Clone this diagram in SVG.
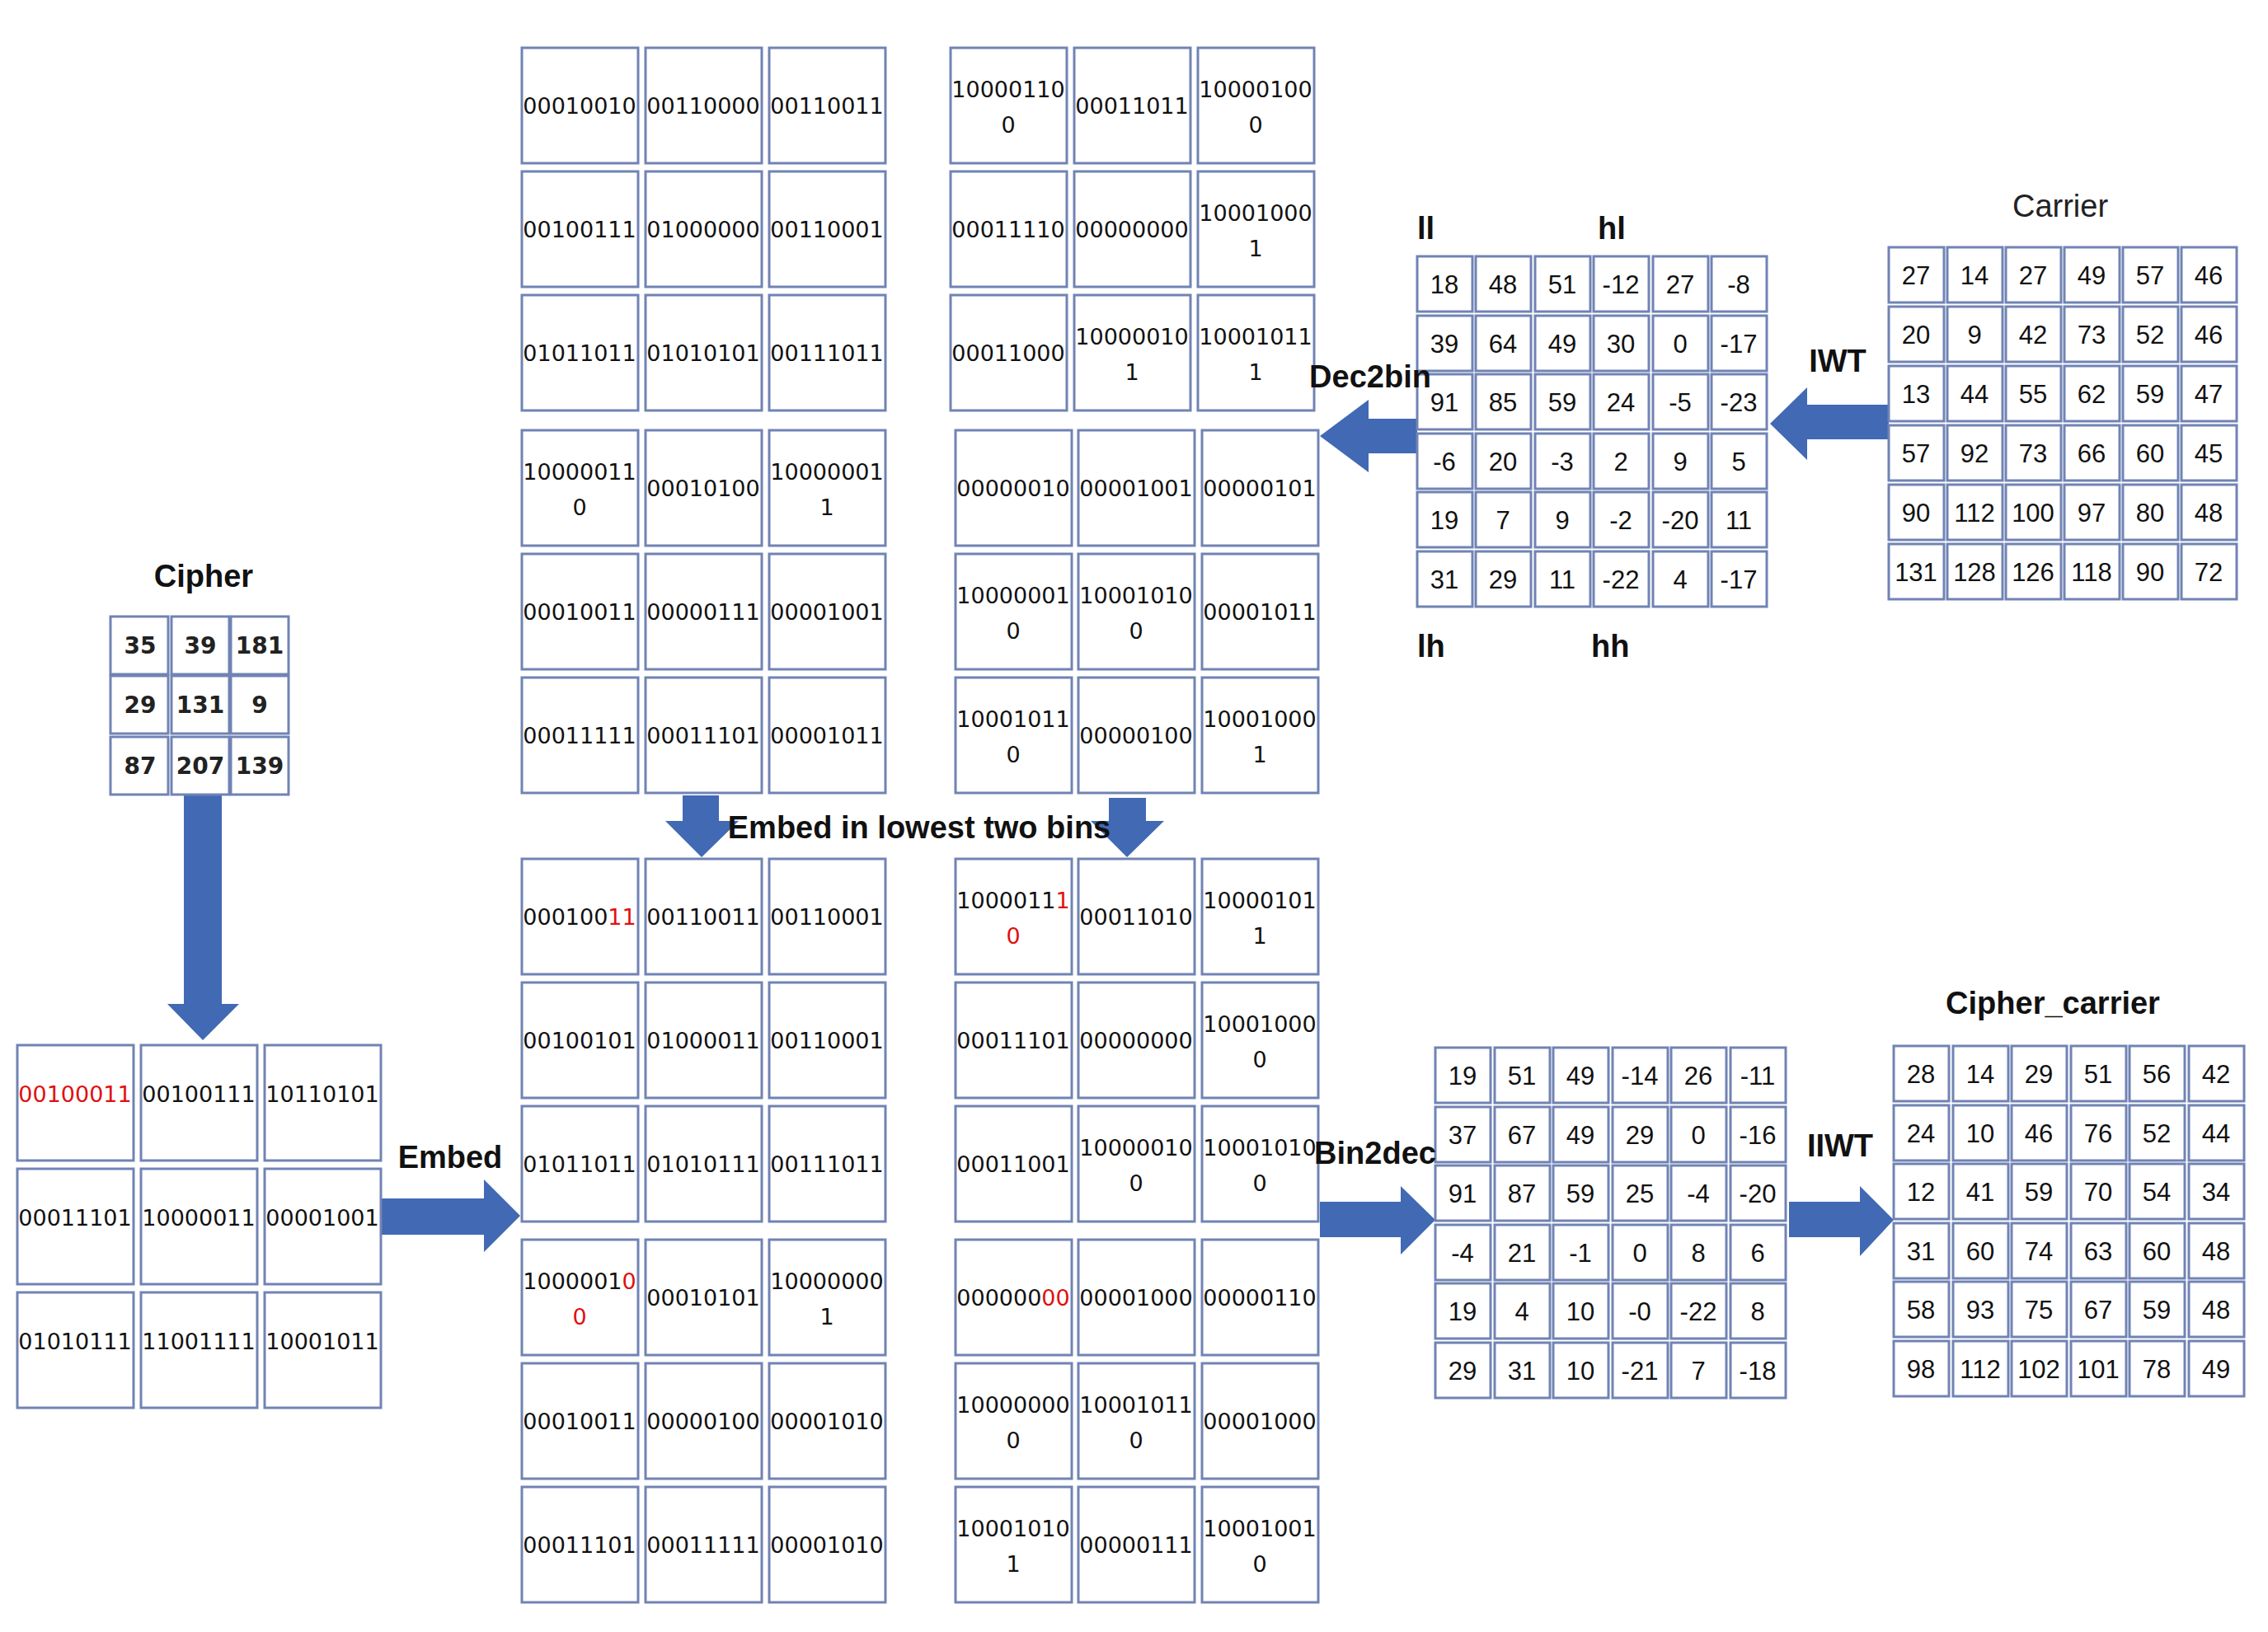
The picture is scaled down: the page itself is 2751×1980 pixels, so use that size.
<svg xmlns="http://www.w3.org/2000/svg" width="2751" height="1980" viewBox="0 0 2751 1980">
<style>
.b{fill:#fff;stroke:#7183b4;stroke-width:3}
.s{fill:#fff;stroke:#7183b4;stroke-width:3}
.bt{font-family:"DejaVu Sans",sans-serif;font-size:27px;fill:#111;text-anchor:middle}
.nt{font-family:"Liberation Sans",sans-serif;font-size:31px;fill:#111;text-anchor:middle}
.ct{font-family:"DejaVu Sans",sans-serif;font-size:28px;font-weight:bold;fill:#222;text-anchor:middle}
.lb{font-family:"Liberation Sans",sans-serif;font-size:38px;font-weight:bold;fill:#111}
.r{fill:#e01010}
.ar{fill:#4169b4}
</style>
<defs>
<rect id="B" class="b" width="141" height="140"/>
<rect id="S" class="s" width="67" height="67"/>
<rect id="C" class="s" width="70" height="70"/>
</defs>

<g id="connectors">
<polygon class="ar" points="223,963 269,963 269,1218 290,1218 246,1262 203,1218 223,1218"/>
<polygon class="ar" points="461,1454 587,1454 587,1431 631,1475 587,1519 587,1498 461,1498"/>
<polygon class="ar" points="828,965 872,965 872,996 896,996 851,1040 807,996 828,996"/>
<polygon class="ar" points="1345,968 1390,968 1390,996 1412,996 1367,1040 1323,996 1345,996"/>
<polygon class="ar" points="2291,491 2192,491 2192,470 2147,514 2192,558 2192,533 2291,533"/>
<polygon class="ar" points="1719,508 1660,508 1660,485 1601,529 1660,573 1660,550 1719,550"/>
<polygon class="ar" points="1601,1458 1699,1458 1699,1439 1741,1480 1699,1522 1699,1501 1601,1501"/>
<polygon class="ar" points="2170,1458 2256,1458 2256,1439 2297,1480 2256,1524 2256,1501 2170,1501"/>
</g>

<g id="cipher">
<use href="#C" x="134" y="748"/><use href="#C" x="208" y="748"/><use href="#C" x="280" y="748"/>
<use href="#C" x="134" y="820"/><use href="#C" x="208" y="820"/><use href="#C" x="280" y="820"/>
<use href="#C" x="134" y="894"/><use href="#C" x="208" y="894"/><use href="#C" x="280" y="894"/>
<text class="ct" x="170" y="793">35</text><text class="ct" x="243" y="793">39</text><text class="ct" x="315" y="793">181</text>
<text class="ct" x="170" y="865">29</text><text class="ct" x="243" y="865">131</text><text class="ct" x="315" y="865">9</text>
<text class="ct" x="170" y="939">87</text><text class="ct" x="243" y="939">207</text><text class="ct" x="315" y="939">139</text>
</g>

<g id="cipher_bin">
<use href="#B" x="21" y="1268"/><use href="#B" x="171" y="1268"/><use href="#B" x="321" y="1268"/>
<use href="#B" x="21" y="1418"/><use href="#B" x="171" y="1418"/><use href="#B" x="321" y="1418"/>
<use href="#B" x="21" y="1568"/><use href="#B" x="171" y="1568"/><use href="#B" x="321" y="1568"/>
<text class="bt r" x="91" y="1337">00100011</text><text class="bt" x="241" y="1337">00100111</text><text class="bt" x="391" y="1337">10110101</text>
<text class="bt" x="91" y="1487">00011101</text><text class="bt" x="241" y="1487">10000011</text><text class="bt" x="391" y="1487">00001001</text>
<text class="bt" x="91" y="1637">01010111</text><text class="bt" x="241" y="1637">11001111</text><text class="bt" x="391" y="1637">10001011</text>
</g>

<g id="ll_bin">
<use href="#B" x="633" y="58"/><use href="#B" x="783" y="58"/><use href="#B" x="933" y="58"/>
<use href="#B" x="633" y="208"/><use href="#B" x="783" y="208"/><use href="#B" x="933" y="208"/>
<use href="#B" x="633" y="358"/><use href="#B" x="783" y="358"/><use href="#B" x="933" y="358"/>
<use href="#B" x="633" y="522"/><use href="#B" x="783" y="522"/><use href="#B" x="933" y="522"/>
<use href="#B" x="633" y="672"/><use href="#B" x="783" y="672"/><use href="#B" x="933" y="672"/>
<use href="#B" x="633" y="822"/><use href="#B" x="783" y="822"/><use href="#B" x="933" y="822"/>
<text class="bt" x="703" y="138">00010010</text><text class="bt" x="853" y="138">00110000</text><text class="bt" x="1003" y="138">00110011</text>
<text class="bt" x="703" y="288">00100111</text><text class="bt" x="853" y="288">01000000</text><text class="bt" x="1003" y="288">00110001</text>
<text class="bt" x="703" y="438">01011011</text><text class="bt" x="853" y="438">01010101</text><text class="bt" x="1003" y="438">00111011</text>
<text class="bt" x="703" y="582">10000011</text><text class="bt" x="703" y="625">0</text><text class="bt" x="853" y="602">00010100</text><text class="bt" x="1003" y="582">10000001</text><text class="bt" x="1003" y="625">1</text>
<text class="bt" x="703" y="752">00010011</text><text class="bt" x="853" y="752">00000111</text><text class="bt" x="1003" y="752">00001001</text>
<text class="bt" x="703" y="902">00011111</text><text class="bt" x="853" y="902">00011101</text><text class="bt" x="1003" y="902">00001011</text>
</g>

<g id="hl_bin">
<use href="#B" x="1153" y="58"/><use href="#B" x="1303" y="58"/><use href="#B" x="1453" y="58"/>
<use href="#B" x="1153" y="208"/><use href="#B" x="1303" y="208"/><use href="#B" x="1453" y="208"/>
<use href="#B" x="1153" y="358"/><use href="#B" x="1303" y="358"/><use href="#B" x="1453" y="358"/>
<use href="#B" x="1159" y="522"/><use href="#B" x="1308" y="522"/><use href="#B" x="1458" y="522"/>
<use href="#B" x="1159" y="672"/><use href="#B" x="1308" y="672"/><use href="#B" x="1458" y="672"/>
<use href="#B" x="1159" y="822"/><use href="#B" x="1308" y="822"/><use href="#B" x="1458" y="822"/>
<text class="bt" x="1223" y="118">10000110</text><text class="bt" x="1223" y="161">0</text><text class="bt" x="1373" y="138">00011011</text><text class="bt" x="1523" y="118">10000100</text><text class="bt" x="1523" y="161">0</text>
<text class="bt" x="1223" y="288">00011110</text><text class="bt" x="1373" y="288">00000000</text><text class="bt" x="1523" y="268">10001000</text><text class="bt" x="1523" y="311">1</text>
<text class="bt" x="1223" y="438">00011000</text><text class="bt" x="1373" y="418">10000010</text><text class="bt" x="1373" y="461">1</text><text class="bt" x="1523" y="418">10001011</text><text class="bt" x="1523" y="461">1</text>
<text class="bt" x="1229" y="602">00000010</text><text class="bt" x="1378" y="602">00001001</text><text class="bt" x="1528" y="602">00000101</text>
<text class="bt" x="1229" y="732">10000001</text><text class="bt" x="1229" y="775">0</text><text class="bt" x="1378" y="732">10001010</text><text class="bt" x="1378" y="775">0</text><text class="bt" x="1528" y="752">00001011</text>
<text class="bt" x="1229" y="882">10001011</text><text class="bt" x="1229" y="925">0</text><text class="bt" x="1378" y="902">00000100</text><text class="bt" x="1528" y="882">10001000</text><text class="bt" x="1528" y="925">1</text>
</g>

<g id="ll_embedded">
<use href="#B" x="633" y="1042"/><use href="#B" x="783" y="1042"/><use href="#B" x="933" y="1042"/>
<use href="#B" x="633" y="1192"/><use href="#B" x="783" y="1192"/><use href="#B" x="933" y="1192"/>
<use href="#B" x="633" y="1342"/><use href="#B" x="783" y="1342"/><use href="#B" x="933" y="1342"/>
<use href="#B" x="633" y="1504"/><use href="#B" x="783" y="1504"/><use href="#B" x="933" y="1504"/>
<use href="#B" x="633" y="1654"/><use href="#B" x="783" y="1654"/><use href="#B" x="933" y="1654"/>
<use href="#B" x="633" y="1804"/><use href="#B" x="783" y="1804"/><use href="#B" x="933" y="1804"/>
<text class="bt" x="703" y="1122">000100<tspan class="r">11</tspan></text><text class="bt" x="853" y="1122">00110011</text><text class="bt" x="1003" y="1122">00110001</text>
<text class="bt" x="703" y="1272">00100101</text><text class="bt" x="853" y="1272">01000011</text><text class="bt" x="1003" y="1272">00110001</text>
<text class="bt" x="703" y="1422">01011011</text><text class="bt" x="853" y="1422">01010111</text><text class="bt" x="1003" y="1422">00111011</text>
<text class="bt" x="703" y="1564">1000001<tspan class="r">0</tspan></text><text class="bt r" x="703" y="1607">0</text><text class="bt" x="853" y="1584">00010101</text><text class="bt" x="1003" y="1564">10000000</text><text class="bt" x="1003" y="1607">1</text>
<text class="bt" x="703" y="1734">00010011</text><text class="bt" x="853" y="1734">00000100</text><text class="bt" x="1003" y="1734">00001010</text>
<text class="bt" x="703" y="1884">00011101</text><text class="bt" x="853" y="1884">00011111</text><text class="bt" x="1003" y="1884">00001010</text>
</g>

<g id="hl_embedded">
<use href="#B" x="1159" y="1042"/><use href="#B" x="1308" y="1042"/><use href="#B" x="1458" y="1042"/>
<use href="#B" x="1159" y="1192"/><use href="#B" x="1308" y="1192"/><use href="#B" x="1458" y="1192"/>
<use href="#B" x="1159" y="1342"/><use href="#B" x="1308" y="1342"/><use href="#B" x="1458" y="1342"/>
<use href="#B" x="1159" y="1504"/><use href="#B" x="1308" y="1504"/><use href="#B" x="1458" y="1504"/>
<use href="#B" x="1159" y="1654"/><use href="#B" x="1308" y="1654"/><use href="#B" x="1458" y="1654"/>
<use href="#B" x="1159" y="1804"/><use href="#B" x="1308" y="1804"/><use href="#B" x="1458" y="1804"/>
<text class="bt" x="1229" y="1102">1000011<tspan class="r">1</tspan></text><text class="bt r" x="1229" y="1145">0</text><text class="bt" x="1378" y="1122">00011010</text><text class="bt" x="1528" y="1102">10000101</text><text class="bt" x="1528" y="1145">1</text>
<text class="bt" x="1229" y="1272">00011101</text><text class="bt" x="1378" y="1272">00000000</text><text class="bt" x="1528" y="1252">10001000</text><text class="bt" x="1528" y="1295">0</text>
<text class="bt" x="1229" y="1422">00011001</text><text class="bt" x="1378" y="1402">10000010</text><text class="bt" x="1378" y="1445">0</text><text class="bt" x="1528" y="1402">10001010</text><text class="bt" x="1528" y="1445">0</text>
<text class="bt" x="1229" y="1584">000000<tspan class="r">00</tspan></text><text class="bt" x="1378" y="1584">00001000</text><text class="bt" x="1528" y="1584">00000110</text>
<text class="bt" x="1229" y="1714">10000000</text><text class="bt" x="1229" y="1757">0</text><text class="bt" x="1378" y="1714">10001011</text><text class="bt" x="1378" y="1757">0</text><text class="bt" x="1528" y="1734">00001000</text>
<text class="bt" x="1229" y="1864">10001010</text><text class="bt" x="1229" y="1907">1</text><text class="bt" x="1378" y="1884">00000111</text><text class="bt" x="1528" y="1864">10001001</text><text class="bt" x="1528" y="1907">0</text>
</g>

<g id="iwt_coeffs">
<use href="#S" x="1719" y="311"/><use href="#S" x="1790" y="311"/><use href="#S" x="1862" y="311"/><use href="#S" x="1933" y="311"/><use href="#S" x="2005" y="311"/><use href="#S" x="2076" y="311"/>
<use href="#S" x="1719" y="383"/><use href="#S" x="1790" y="383"/><use href="#S" x="1862" y="383"/><use href="#S" x="1933" y="383"/><use href="#S" x="2005" y="383"/><use href="#S" x="2076" y="383"/>
<use href="#S" x="1719" y="454"/><use href="#S" x="1790" y="454"/><use href="#S" x="1862" y="454"/><use href="#S" x="1933" y="454"/><use href="#S" x="2005" y="454"/><use href="#S" x="2076" y="454"/>
<use href="#S" x="1719" y="526"/><use href="#S" x="1790" y="526"/><use href="#S" x="1862" y="526"/><use href="#S" x="1933" y="526"/><use href="#S" x="2005" y="526"/><use href="#S" x="2076" y="526"/>
<use href="#S" x="1719" y="597"/><use href="#S" x="1790" y="597"/><use href="#S" x="1862" y="597"/><use href="#S" x="1933" y="597"/><use href="#S" x="2005" y="597"/><use href="#S" x="2076" y="597"/>
<use href="#S" x="1719" y="669"/><use href="#S" x="1790" y="669"/><use href="#S" x="1862" y="669"/><use href="#S" x="1933" y="669"/><use href="#S" x="2005" y="669"/><use href="#S" x="2076" y="669"/>
<text class="nt" y="356"><tspan x="1752">18</tspan><tspan x="1823">48</tspan><tspan x="1895">51</tspan><tspan x="1966">-12</tspan><tspan x="2038">27</tspan><tspan x="2109">-8</tspan></text>
<text class="nt" y="428"><tspan x="1752">39</tspan><tspan x="1823">64</tspan><tspan x="1895">49</tspan><tspan x="1966">30</tspan><tspan x="2038">0</tspan><tspan x="2109">-17</tspan></text>
<text class="nt" y="499"><tspan x="1752">91</tspan><tspan x="1823">85</tspan><tspan x="1895">59</tspan><tspan x="1966">24</tspan><tspan x="2038">-5</tspan><tspan x="2109">-23</tspan></text>
<text class="nt" y="571"><tspan x="1752">-6</tspan><tspan x="1823">20</tspan><tspan x="1895">-3</tspan><tspan x="1966">2</tspan><tspan x="2038">9</tspan><tspan x="2109">5</tspan></text>
<text class="nt" y="642"><tspan x="1752">19</tspan><tspan x="1823">7</tspan><tspan x="1895">9</tspan><tspan x="1966">-2</tspan><tspan x="2038">-20</tspan><tspan x="2109">11</tspan></text>
<text class="nt" y="714"><tspan x="1752">31</tspan><tspan x="1823">29</tspan><tspan x="1895">11</tspan><tspan x="1966">-22</tspan><tspan x="2038">4</tspan><tspan x="2109">-17</tspan></text>
</g>

<g id="carrier">
<use href="#S" x="2291" y="300"/><use href="#S" x="2362" y="300"/><use href="#S" x="2433" y="300"/><use href="#S" x="2504" y="300"/><use href="#S" x="2575" y="300"/><use href="#S" x="2646" y="300"/>
<use href="#S" x="2291" y="372"/><use href="#S" x="2362" y="372"/><use href="#S" x="2433" y="372"/><use href="#S" x="2504" y="372"/><use href="#S" x="2575" y="372"/><use href="#S" x="2646" y="372"/>
<use href="#S" x="2291" y="444"/><use href="#S" x="2362" y="444"/><use href="#S" x="2433" y="444"/><use href="#S" x="2504" y="444"/><use href="#S" x="2575" y="444"/><use href="#S" x="2646" y="444"/>
<use href="#S" x="2291" y="516"/><use href="#S" x="2362" y="516"/><use href="#S" x="2433" y="516"/><use href="#S" x="2504" y="516"/><use href="#S" x="2575" y="516"/><use href="#S" x="2646" y="516"/>
<use href="#S" x="2291" y="588"/><use href="#S" x="2362" y="588"/><use href="#S" x="2433" y="588"/><use href="#S" x="2504" y="588"/><use href="#S" x="2575" y="588"/><use href="#S" x="2646" y="588"/>
<use href="#S" x="2291" y="660"/><use href="#S" x="2362" y="660"/><use href="#S" x="2433" y="660"/><use href="#S" x="2504" y="660"/><use href="#S" x="2575" y="660"/><use href="#S" x="2646" y="660"/>
<text class="nt" y="345"><tspan x="2324">27</tspan><tspan x="2395">14</tspan><tspan x="2466">27</tspan><tspan x="2537">49</tspan><tspan x="2608">57</tspan><tspan x="2679">46</tspan></text>
<text class="nt" y="417"><tspan x="2324">20</tspan><tspan x="2395">9</tspan><tspan x="2466">42</tspan><tspan x="2537">73</tspan><tspan x="2608">52</tspan><tspan x="2679">46</tspan></text>
<text class="nt" y="489"><tspan x="2324">13</tspan><tspan x="2395">44</tspan><tspan x="2466">55</tspan><tspan x="2537">62</tspan><tspan x="2608">59</tspan><tspan x="2679">47</tspan></text>
<text class="nt" y="561"><tspan x="2324">57</tspan><tspan x="2395">92</tspan><tspan x="2466">73</tspan><tspan x="2537">66</tspan><tspan x="2608">60</tspan><tspan x="2679">45</tspan></text>
<text class="nt" y="633"><tspan x="2324">90</tspan><tspan x="2395">112</tspan><tspan x="2466">100</tspan><tspan x="2537">97</tspan><tspan x="2608">80</tspan><tspan x="2679">48</tspan></text>
<text class="nt" y="705"><tspan x="2324">131</tspan><tspan x="2395">128</tspan><tspan x="2466">126</tspan><tspan x="2537">118</tspan><tspan x="2608">90</tspan><tspan x="2679">72</tspan></text>
</g>

<g id="embedded_coeffs">
<use href="#S" x="1741" y="1271"/><use href="#S" x="1813" y="1271"/><use href="#S" x="1884" y="1271"/><use href="#S" x="1956" y="1271"/><use href="#S" x="2027" y="1271"/><use href="#S" x="2099" y="1271"/>
<use href="#S" x="1741" y="1343"/><use href="#S" x="1813" y="1343"/><use href="#S" x="1884" y="1343"/><use href="#S" x="1956" y="1343"/><use href="#S" x="2027" y="1343"/><use href="#S" x="2099" y="1343"/>
<use href="#S" x="1741" y="1414"/><use href="#S" x="1813" y="1414"/><use href="#S" x="1884" y="1414"/><use href="#S" x="1956" y="1414"/><use href="#S" x="2027" y="1414"/><use href="#S" x="2099" y="1414"/>
<use href="#S" x="1741" y="1486"/><use href="#S" x="1813" y="1486"/><use href="#S" x="1884" y="1486"/><use href="#S" x="1956" y="1486"/><use href="#S" x="2027" y="1486"/><use href="#S" x="2099" y="1486"/>
<use href="#S" x="1741" y="1557"/><use href="#S" x="1813" y="1557"/><use href="#S" x="1884" y="1557"/><use href="#S" x="1956" y="1557"/><use href="#S" x="2027" y="1557"/><use href="#S" x="2099" y="1557"/>
<use href="#S" x="1741" y="1629"/><use href="#S" x="1813" y="1629"/><use href="#S" x="1884" y="1629"/><use href="#S" x="1956" y="1629"/><use href="#S" x="2027" y="1629"/><use href="#S" x="2099" y="1629"/>
<text class="nt" y="1316"><tspan x="1774">19</tspan><tspan x="1846">51</tspan><tspan x="1917">49</tspan><tspan x="1989">-14</tspan><tspan x="2060">26</tspan><tspan x="2132">-11</tspan></text>
<text class="nt" y="1388"><tspan x="1774">37</tspan><tspan x="1846">67</tspan><tspan x="1917">49</tspan><tspan x="1989">29</tspan><tspan x="2060">0</tspan><tspan x="2132">-16</tspan></text>
<text class="nt" y="1459"><tspan x="1774">91</tspan><tspan x="1846">87</tspan><tspan x="1917">59</tspan><tspan x="1989">25</tspan><tspan x="2060">-4</tspan><tspan x="2132">-20</tspan></text>
<text class="nt" y="1531"><tspan x="1774">-4</tspan><tspan x="1846">21</tspan><tspan x="1917">-1</tspan><tspan x="1989">0</tspan><tspan x="2060">8</tspan><tspan x="2132">6</tspan></text>
<text class="nt" y="1602"><tspan x="1774">19</tspan><tspan x="1846">4</tspan><tspan x="1917">10</tspan><tspan x="1989">-0</tspan><tspan x="2060">-22</tspan><tspan x="2132">8</tspan></text>
<text class="nt" y="1674"><tspan x="1774">29</tspan><tspan x="1846">31</tspan><tspan x="1917">10</tspan><tspan x="1989">-21</tspan><tspan x="2060">7</tspan><tspan x="2132">-18</tspan></text>
</g>

<g id="cipher_carrier">
<use href="#S" x="2297" y="1269"/><use href="#S" x="2369" y="1269"/><use href="#S" x="2440" y="1269"/><use href="#S" x="2512" y="1269"/><use href="#S" x="2583" y="1269"/><use href="#S" x="2655" y="1269"/>
<use href="#S" x="2297" y="1341"/><use href="#S" x="2369" y="1341"/><use href="#S" x="2440" y="1341"/><use href="#S" x="2512" y="1341"/><use href="#S" x="2583" y="1341"/><use href="#S" x="2655" y="1341"/>
<use href="#S" x="2297" y="1412"/><use href="#S" x="2369" y="1412"/><use href="#S" x="2440" y="1412"/><use href="#S" x="2512" y="1412"/><use href="#S" x="2583" y="1412"/><use href="#S" x="2655" y="1412"/>
<use href="#S" x="2297" y="1484"/><use href="#S" x="2369" y="1484"/><use href="#S" x="2440" y="1484"/><use href="#S" x="2512" y="1484"/><use href="#S" x="2583" y="1484"/><use href="#S" x="2655" y="1484"/>
<use href="#S" x="2297" y="1555"/><use href="#S" x="2369" y="1555"/><use href="#S" x="2440" y="1555"/><use href="#S" x="2512" y="1555"/><use href="#S" x="2583" y="1555"/><use href="#S" x="2655" y="1555"/>
<use href="#S" x="2297" y="1627"/><use href="#S" x="2369" y="1627"/><use href="#S" x="2440" y="1627"/><use href="#S" x="2512" y="1627"/><use href="#S" x="2583" y="1627"/><use href="#S" x="2655" y="1627"/>
<text class="nt" y="1314"><tspan x="2330">28</tspan><tspan x="2402">14</tspan><tspan x="2473">29</tspan><tspan x="2545">51</tspan><tspan x="2616">56</tspan><tspan x="2688">42</tspan></text>
<text class="nt" y="1386"><tspan x="2330">24</tspan><tspan x="2402">10</tspan><tspan x="2473">46</tspan><tspan x="2545">76</tspan><tspan x="2616">52</tspan><tspan x="2688">44</tspan></text>
<text class="nt" y="1457"><tspan x="2330">12</tspan><tspan x="2402">41</tspan><tspan x="2473">59</tspan><tspan x="2545">70</tspan><tspan x="2616">54</tspan><tspan x="2688">34</tspan></text>
<text class="nt" y="1529"><tspan x="2330">31</tspan><tspan x="2402">60</tspan><tspan x="2473">74</tspan><tspan x="2545">63</tspan><tspan x="2616">60</tspan><tspan x="2688">48</tspan></text>
<text class="nt" y="1600"><tspan x="2330">58</tspan><tspan x="2402">93</tspan><tspan x="2473">75</tspan><tspan x="2545">67</tspan><tspan x="2616">59</tspan><tspan x="2688">48</tspan></text>
<text class="nt" y="1672"><tspan x="2330">98</tspan><tspan x="2402">112</tspan><tspan x="2473">102</tspan><tspan x="2545">101</tspan><tspan x="2616">78</tspan><tspan x="2688">49</tspan></text>
</g>

<g id="labels">
<text class="lb" x="247" y="712" text-anchor="middle">Cipher</text>
<text class="lb" x="546" y="1417" text-anchor="middle">Embed</text>
<text class="lb" x="1115" y="1017" text-anchor="middle">Embed in lowest two bins</text>
<text class="lb" x="1662" y="470" text-anchor="middle">Dec2bin</text>
<text class="lb" x="2229" y="451" text-anchor="middle">IWT</text>
<text x="2499" y="263" text-anchor="middle" style="font-family:'Liberation Sans',sans-serif;font-size:38px;fill:#222">Carrier</text>
<text class="lb" x="1719" y="290">ll</text>
<text class="lb" x="1938" y="290">hl</text>
<text class="lb" x="1719" y="797">lh</text>
<text class="lb" x="1930" y="797">hh</text>
<text class="lb" x="1668" y="1412" text-anchor="middle">Bin2dec</text>
<text class="lb" x="2232" y="1403" text-anchor="middle">IIWT</text>
<text class="lb" x="2490" y="1230" text-anchor="middle">Cipher_carrier</text>
</g>
</svg>
